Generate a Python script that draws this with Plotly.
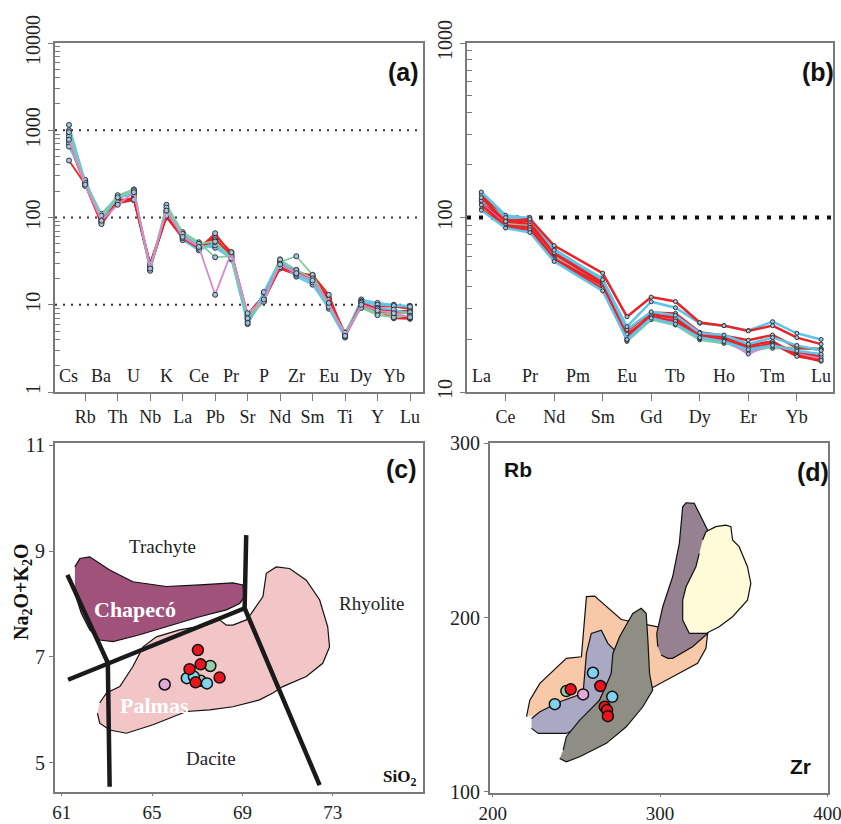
import plotly.graph_objects as go

W, H = 841, 824

# ---------------- data ----------------
# (a) primitive-mantle normalised multi-element diagram
spider_elems = ["Cs", "Rb", "Ba", "Th", "U", "Nb", "K", "La", "Ce", "Pb", "Pr",
                "Sr", "P", "Nd", "Zr", "Sm", "Eu", "Ti", "Dy", "Y", "Yb", "Lu"]
spider_r1 = [450, 240, 84, 150, 160, 26, 105, 58, 44, 66, 38, 7.0, 11, 27, 23, 22, 13, 4.4, 10.5, 9.0, 7.5, 7.0]
spider_r2 = [750, 260, 86, 155, 165, 28, 100, 60, 46, 62, 40, 7.5, 12, 28, 24, 21, 12, 4.6, 10.0, 8.5, 7.0, 6.9]
spider_r3 = [800, 250, 90, 145, 158, 29, 108, 62, 48, 58, 36, 7.2, 11.5, 26, 22, 20, 11, 4.5, 9.5, 8.0, 8.0, 8.0]
spider_r4 = [700, 235, 88, 160, 162, 27, 102, 57, 45, 55, 37, 6.8, 12.5, 29, 25, 19, 11.5, 4.8, 10.2, 9.5, 9.5, 9.0]
spider_r5 = [900, 245, 92, 150, 170, 30, 110, 64, 50, 50, 39, 7.8, 13, 30, 24, 21, 10.5, 4.3, 9.8, 8.8, 8.5, 8.5]
spider_c1 = [1150, 255, 110, 175, 200, 27, 120, 66, 48, 45, 34, 6.5, 13.5, 32, 23, 18, 10, 4.6, 11.5, 10.5, 10.0, 9.7]
spider_c2 = [1000, 265, 100, 165, 190, 26, 115, 62, 45, 48, 33, 6.0, 12, 30, 21, 17, 9, 4.2, 11.0, 10.0, 9.7, 9.5]
spider_c3 = [650, 270, 95, 170, 185, 25, 112, 55, 42, 52, 35, 6.2, 14, 33, 22, 18, 9.5, 4.4, 10.8, 9.2, 8.8, 8.0]
spider_g1 = [850, 230, 98, 180, 210, 25, 140, 68, 52, 35, 36, 7.5, 11, 31, 36, 22, 10, 4.6, 9.5, 8.0, 7.8, 8.2]
spider_g2 = [950, 250, 105, 170, 205, 24.5, 130, 65, 50, 53, 34, 7.0, 10.8, 33, 25, 20, 9.5, 4.8, 9.2, 7.6, 7.2, 7.5]
spider_p1 = [780, 238, 92, 140, 195, 26, 120, 60, 46, 13, 40, 8.0, 11.5, 29, 23, 19, 10.5, 4.4, 10.0, 8.6, 8.0, 7.2]
spider_refs = [10, 100, 1000]

# (b) chondrite-normalised REE diagram (Pm not analysed)
ree_elems = ["La", "Ce", "Pr", "Nd", "Pm", "Sm", "Eu", "Gd", "Tb", "Dy", "Ho", "Er", "Tm", "Yb", "Lu"]
ree_r1 = [130, 95, 98, 69, None, 48, 27.0, 35.0, 33.0, 25.0, 24.0, 22.4, 24.0, 20.5, 18.8]
ree_r2 = [118, 90, 88, 58, None, 41, 22.5, 28.5, 28.2, 22.0, 21.0, 19.8, 21.2, 18.0, 17.5]
ree_r3 = [112, 88, 85, 57, None, 39, 21.0, 27.5, 27.0, 21.5, 20.5, 18.5, 19.5, 16.3, 15.0]
ree_r4 = [125, 95, 92, 62, None, 42, 20.5, 28.0, 26.5, 21.0, 20.0, 17.5, 19.0, 16.0, 15.2]
ree_r5 = [135, 97, 95, 63, None, 43, 21.5, 27.0, 25.5, 20.5, 19.8, 18.0, 18.8, 17.0, 16.0]
ree_c1 = [125, 100, 100, 65, None, 44, 23.7, 32.9, 30.4, 24.8, 24.0, 22.5, 25.3, 21.7, 20.0]
ree_c2 = [110, 87, 82, 56, None, 38, 20.0, 26.5, 24.5, 20.5, 19.5, 17.5, 18.5, 17.2, 16.5]
ree_c3 = [140, 103, 98, 66, None, 44, 22.8, 28.8, 27.5, 21.8, 21.2, 18.8, 20.5, 18.5, 17.3]
ree_g1 = [138, 100, 96, 64, None, 45, 19.5, 26.0, 24.2, 19.9, 19.0, 18.5, 17.8, 18.0, 17.5]
ree_g2 = [128, 93, 89, 60, None, 42, 20.0, 27.0, 25.0, 20.2, 19.3, 17.0, 18.2, 17.5, 17.8]
ree_p1 = [122, 91, 86, 59, None, 40, 19.8, 27.5, 26.0, 21.0, 20.2, 16.5, 19.2, 16.8, 15.5]
ree_refs = [100]

# (c) TAS diagram
tas_sio2_red = [67.03, 67.15, 66.66, 66.93, 67.99]
tas_alk_red = [7.13, 6.86, 6.77, 6.52, 6.61]
tas_sio2_green = [67.58, 67.15]
tas_alk_green = [6.83, 6.55]
tas_sio2_cyan = [66.54, 66.85, 67.43]
tas_alk_cyan = [6.60, 6.63, 6.50]
tas_sio2_pink = [65.56]
tas_alk_pink = [6.48]

chapeco_sio2 = [61.58, 61.80, 62.24, 63.12, 64.15, 65.63, 67.11, 68.58, 69.02, 69.10, 68.88,
                68.29, 67.11, 65.63, 64.45, 63.27, 62.68, 62.24, 61.87, 61.58]
chapeco_alk = [8.70, 8.86, 8.89, 8.64, 8.42, 8.33, 8.36, 8.40, 8.36, 8.14, 8.01,
               7.89, 7.76, 7.57, 7.42, 7.29, 7.32, 7.51, 7.82, 8.20]
palmas_sio2 = [62.68, 62.98, 63.57, 64.15, 64.60, 65.19, 66.22, 67.40, 67.99, 68.29, 68.58,
               69.17, 69.39, 69.91, 70.06, 70.50, 71.09, 71.83, 72.42, 72.78, 72.86, 72.56,
               71.83, 70.79, 70.35, 69.76, 68.58, 67.55, 66.52, 65.04, 63.86, 63.12, 62.68, 62.58]
palmas_alk = [6.13, 6.32, 6.44, 6.82, 7.19, 7.38, 7.51, 7.60, 7.70, 7.60, 7.60,
              7.70, 7.82, 8.14, 8.58, 8.70, 8.67, 8.45, 8.08, 7.57, 7.19, 6.88,
              6.63, 6.44, 6.32, 6.19, 6.06, 6.00, 5.97, 5.72, 5.56, 5.62, 5.75, 5.94]
# field boundaries (SiO2, Na2O+K2O)
tas_bound_1 = ([61.25, 63.04, 63.12], [8.55, 6.89, 4.55])
tas_bound_2 = ([61.28, 69.10], [6.57, 7.92])
tas_bound_3 = ([69.17, 69.10, 72.42], [9.30, 7.92, 4.58])

# (d) Zr vs Rb
zr_red = [246.6, 264.3, 266.9, 268.3, 268.8]
rb_red = [158.8, 160.7, 148.8, 146.9, 143.4]
zr_cyan = [237.1, 259.9, 271.4]
rb_cyan = [150.3, 168.3, 154.5]
zr_green = [244.0]
rb_green = [157.8]
zr_pink = [254.0]
rb_pink = [155.9]

fieldA_zr = [220.2, 222.2, 228.2, 244.0, 253.0, 256.0, 260.9, 276.8, 298.6, 328.4, 327.4,
             322.4, 307.5, 295.6, 275.8, 256.0, 226.2]
fieldA_rb = [143.1, 152.6, 162.2, 176.6, 177.5, 212.0, 212.3, 198.9, 194.7, 190.9, 182.3,
             173.7, 166.0, 159.9, 152.6, 146.9, 144.0]
fieldB_zr = [223.2, 228.2, 240.1, 254.0, 256.0, 258.9, 264.9, 268.8, 272.8, 271.8, 263.9,
             252.0, 244.0, 227.2, 223.2]
fieldB_rb = [142.1, 145.9, 151.7, 156.5, 179.4, 190.9, 192.8, 185.2, 181.3, 167.9, 152.6,
             137.3, 133.5, 133.5, 136.4]
fieldC_zr = [242.1, 244.0, 252.0, 263.9, 270.8, 271.8, 275.8, 283.7, 288.7, 291.7, 292.7,
             293.7, 295.6, 289.7, 279.8, 267.9, 252.0, 244.0, 240.0]
fieldC_rb = [123.9, 131.6, 141.1, 152.6, 167.9, 179.4, 189.0, 202.4, 205.3, 202.4, 187.1,
             167.9, 158.4, 148.8, 137.3, 127.8, 120.1, 117.2, 119.1]
fieldD_zr = [298.6, 298.0, 301.6, 307.5, 311.5, 313.5, 315.5, 320.4, 325.4, 329.4, 331.3,
             329.4, 328.4, 319.4, 307.5, 304.6, 300.6]
fieldD_rb = [183.3, 190.9, 206.2, 223.4, 242.6, 263.6, 265.9, 265.6, 256.0, 248.3, 234.9,
             210.0, 190.9, 183.3, 176.6, 176.6, 178.5]
fieldE_zr = [325.4, 327.4, 333.3, 339.3, 342.3, 343.3, 347.2, 352.2, 354.2, 352.2, 343.3,
             335.3, 327.4, 317.5, 313.5, 313.5, 315.5, 321.4, 323.4]
fieldE_rb = [244.5, 249.3, 252.2, 253.1, 252.2, 244.5, 240.7, 229.2, 219.6, 210.0, 200.5,
             194.7, 190.9, 190.9, 198.6, 210.0, 217.7, 229.2, 236.8]

# ---------------- styling ----------------
SERIF = "Liberation Serif, Times New Roman, serif"
SANS = "Liberation Sans Narrow, Liberation Sans, Arial, sans-serif"
FRAME = "#7a7a7a"
COL = {"red": "#ec2224", "cyan": "#5ec4ea", "green": "#82cc9e", "pink": "#d28ad0"}
DOT = {"red": "#e8151c", "cyan": "#80d2ee", "green": "#93cfa9", "pink": "#e2aadb"}


def px(x):
    return x / W


def py(y):
    return 1 - y / H


fig = go.Figure()

# ---- (a) spider lines
spider_series = [("red", spider_r2), ("red", spider_r3), ("red", spider_r4), ("red", spider_r5),
                 ("cyan", spider_c1), ("cyan", spider_c2), ("cyan", spider_c3),
                 ("red", spider_r1), ("green", spider_g1), ("green", spider_g2),
                 ("pink", spider_p1)]
a_idx = list(range(len(spider_elems)))
a_xrange = [-0.86, 21.8]
for lvl in spider_refs:
    fig.add_trace(go.Scatter(x=a_xrange, y=[lvl, lvl], mode="lines", xaxis="x", yaxis="y",
                             line=dict(color="#333333", width=2, dash="2px,6px"),
                             showlegend=False, hoverinfo="skip"))
for grp, vals in spider_series:
    fig.add_trace(go.Scatter(x=a_idx, y=vals, mode="lines+markers", xaxis="x", yaxis="y",
                             line=dict(color=COL[grp], width=1.8),
                             marker=dict(size=5, color="#a8c4d4", line=dict(color="#2a3340", width=1)),
                             showlegend=False))

# ---- (b) REE lines
ree_series = [("green", ree_g1), ("green", ree_g2), ("pink", ree_p1),
              ("red", ree_r2), ("red", ree_r3), ("red", ree_r4), ("red", ree_r5),
              ("cyan", ree_c2), ("cyan", ree_c3), ("cyan", ree_c1), ("red", ree_r1)]
b_idx = list(range(len(ree_elems)))
b_xrange = [-0.59, 14.49]
for lvl in ree_refs:
    fig.add_trace(go.Scatter(x=b_xrange, y=[lvl, lvl], mode="lines", xaxis="x2", yaxis="y2",
                             line=dict(color="#111111", width=4, dash="4px,8px"),
                             showlegend=False, hoverinfo="skip"))
for grp, vals in ree_series:
    fig.add_trace(go.Scatter(x=b_idx, y=vals, mode="lines+markers", xaxis="x2", yaxis="y2",
                             connectgaps=True,
                             line=dict(color=COL[grp], width=2.5),
                             marker=dict(size=4, color="#a8c4d4", line=dict(color="#2a3340", width=1)),
                             showlegend=False))

# ---- (c) TAS fields, boundaries and samples
fig.add_trace(go.Scatter(x=palmas_sio2, y=palmas_alk, fill="toself", fillcolor="#f2c5c6",
                         mode="lines", line=dict(color="#111111", width=1.2),
                         xaxis="x3", yaxis="y3", showlegend=False))
fig.add_trace(go.Scatter(x=chapeco_sio2, y=chapeco_alk, fill="toself", fillcolor="#a0527b",
                         mode="lines", line=dict(color="#111111", width=1.2),
                         xaxis="x3", yaxis="y3", showlegend=False))
for bx, by in (tas_bound_1, tas_bound_2, tas_bound_3):
    fig.add_trace(go.Scatter(x=bx, y=by, mode="lines", line=dict(color="#1a1a1a", width=4.5),
                             xaxis="x3", yaxis="y3", showlegend=False))
for grp, xs, ys in (("pink", tas_sio2_pink, tas_alk_pink), ("green", tas_sio2_green, tas_alk_green),
                    ("cyan", tas_sio2_cyan, tas_alk_cyan), ("red", tas_sio2_red, tas_alk_red)):
    fig.add_trace(go.Scatter(x=xs, y=ys, mode="markers", xaxis="x3", yaxis="y3",
                             marker=dict(size=11, color=DOT[grp], line=dict(color="#111111", width=1.5)),
                             showlegend=False))

# ---- (d) Zr-Rb fields and samples
for fx, fy, fc in ((fieldA_zr, fieldA_rb, "#f7c9a8"), (fieldB_zr, fieldB_rb, "#a9a9c4"),
                   (fieldC_zr, fieldC_rb, "#8e8e84"), (fieldD_zr, fieldD_rb, "#95818f"),
                   (fieldE_zr, fieldE_rb, "#fffad8")):
    fig.add_trace(go.Scatter(x=fx, y=fy, fill="toself", fillcolor=fc, mode="lines",
                             line=dict(color="#111111", width=1.2),
                             xaxis="x4", yaxis="y4", showlegend=False))
for grp, xs, ys in (("cyan", zr_cyan, rb_cyan), ("green", zr_green, rb_green),
                    ("pink", zr_pink, rb_pink), ("red", zr_red, rb_red)):
    fig.add_trace(go.Scatter(x=xs, y=ys, mode="markers", xaxis="x4", yaxis="y4",
                             marker=dict(size=11, color=DOT[grp], line=dict(color="#111111", width=1.5)),
                             showlegend=False))

# ---------------- axes ----------------
frame = dict(showline=True, mirror=True, linecolor=FRAME, linewidth=2, showgrid=False,
             zeroline=False, automargin=False, tickcolor=FRAME, ticklabeloverflow="allow",
             tickfont=dict(family=SERIF, size=20, color="#222222"))
low_x = dict(tickfont=dict(family=SERIF, size=19, color="#222222"), ticks="outside", ticklen=2)

log_minor_a = [m * 10 ** e for e in range(0, 4) for m in range(2, 10)]
log_minor_b = [m * 10 ** e for e in range(1, 3) for m in range(2, 10)]

fig.update_layout(
    width=W, height=H, margin=dict(l=0, r=0, t=0, b=0, autoexpand=False),
    paper_bgcolor="white", plot_bgcolor="white", showlegend=False,
    xaxis=dict(frame, domain=[px(55), px(423)], anchor="y", range=a_xrange,
               tickmode="array", tickvals=a_idx[1::2], ticktext=spider_elems[1::2],
               ticks="outside", ticklen=7, tickfont=dict(family=SERIF, size=18, color="#222222")),
    yaxis=dict(frame, domain=[py(392), py(43)], anchor="x", type="log", range=[0, 4],
               tickmode="array", tickvals=[1, 10, 100, 1000, 10000],
               ticktext=["1", "10", "100", "1000", "10000"], tickangle=-90,
               ticks="outside", ticklen=5,
               minor=dict(tickmode="array", tickvals=log_minor_a, ticks="inside", ticklen=5,
                          tickcolor=FRAME)),
    xaxis2=dict(frame, domain=[px(467), px(833)], anchor="y2", range=b_xrange,
                tickmode="array", tickvals=b_idx[1::2], ticktext=ree_elems[1::2],
                ticks="outside", ticklen=7, tickfont=dict(family=SERIF, size=18, color="#222222")),
    yaxis2=dict(frame, domain=[py(392), py(43)], anchor="x2", type="log", range=[1, 3],
                tickmode="array", tickvals=[10, 100, 1000], ticktext=["10", "100", "1000"],
                tickangle=-90, ticks="outside", ticklen=5,
                minor=dict(tickmode="array", tickvals=log_minor_b, ticks="inside", ticklen=5,
                           tickcolor=FRAME)),
    xaxis3=dict(frame, **low_x, domain=[px(55), px(423)], anchor="y3", range=[60.7, 77.0],
                tickmode="array", tickvals=[61, 65, 69, 73]),
    yaxis3=dict(frame, domain=[py(792), py(443)], anchor="x3", range=[4.45, 11.04],
                tickmode="array", tickvals=[5, 7, 9, 11], ticks="outside", ticklen=4),
    xaxis4=dict(frame, **low_x, domain=[px(490), px(828)], anchor="y4", range=[198.4, 400.3],
                tickmode="array", tickvals=[200, 300, 400]),
    yaxis4=dict(frame, domain=[py(793), py(443)], anchor="x4", range=[99.3, 300.2],
                tickmode="array", tickvals=[100, 200, 300], ticks="outside", ticklen=4),
)

# ---------------- text ----------------
ann = []
for i in a_idx[0::2]:
    ann.append(dict(x=i, y=py(376), xref="x", yref="paper", text=spider_elems[i], showarrow=False,
                    font=dict(family=SERIF, size=18, color="#222222"),
                    xanchor="center", yanchor="middle"))
for i in b_idx[0::2]:
    ann.append(dict(x=i, y=py(376), xref="x2", yref="paper", text=ree_elems[i], showarrow=False,
                    font=dict(family=SERIF, size=18, color="#222222"),
                    xanchor="center", yanchor="middle"))

panel_font = dict(family=SANS, size=25, color="#111111")
for lbl, xx, yy in (("(a)", 403, 72), ("(b)", 818, 72), ("(c)", 401, 469), ("(d)", 813, 472)):
    ann.append(dict(x=px(xx), y=py(yy), xref="paper", yref="paper", text="<b>%s</b>" % lbl,
                    showarrow=False, font=panel_font, xanchor="center", yanchor="middle"))

region_font = dict(family=SERIF, size=19, color="#222222")
ann += [
    dict(x=65.47, y=9.08, xref="x3", yref="y3", text="Trachyte", showarrow=False, font=region_font),
    dict(x=74.70, y=8.01, xref="x3", yref="y3", text="Rhyolite", showarrow=False, font=region_font),
    dict(x=67.62, y=5.09, xref="x3", yref="y3", text="Dacite", showarrow=False, font=region_font),
    dict(x=64.23, y=7.89, xref="x3", yref="y3", text="<b>Chapecó</b>", showarrow=False,
         font=dict(family=SERIF, size=22, color="white")),
    dict(x=65.12, y=6.09, xref="x3", yref="y3", text="<b>Palmas</b>", showarrow=False,
         font=dict(family=SERIF, size=22, color="white")),
    dict(x=px(418), y=py(778), xref="paper", yref="paper", xanchor="right", yanchor="middle",
         text="<b>SiO<sub>2</sub></b>", showarrow=False, font=dict(family=SERIF, size=17, color="#111111")),
    dict(x=px(22), y=py(592), xref="paper", yref="paper", textangle=-90,
         xanchor="center", yanchor="middle",
         text="<b>Na<sub>2</sub>O+K<sub>2</sub>O</b>", showarrow=False,
         font=dict(family=SERIF, size=20, color="#111111")),
    dict(x=214.9, y=285.1, xref="x4", yref="y4", text="<b>Rb</b>", showarrow=False,
         font=dict(family=SANS, size=21, color="#111111")),
    dict(x=383.9, y=114.4, xref="x4", yref="y4", text="<b>Zr</b>", showarrow=False,
         font=dict(family=SANS, size=21, color="#111111")),
]
fig.update_layout(annotations=ann)

fig.write_html("out.html")
